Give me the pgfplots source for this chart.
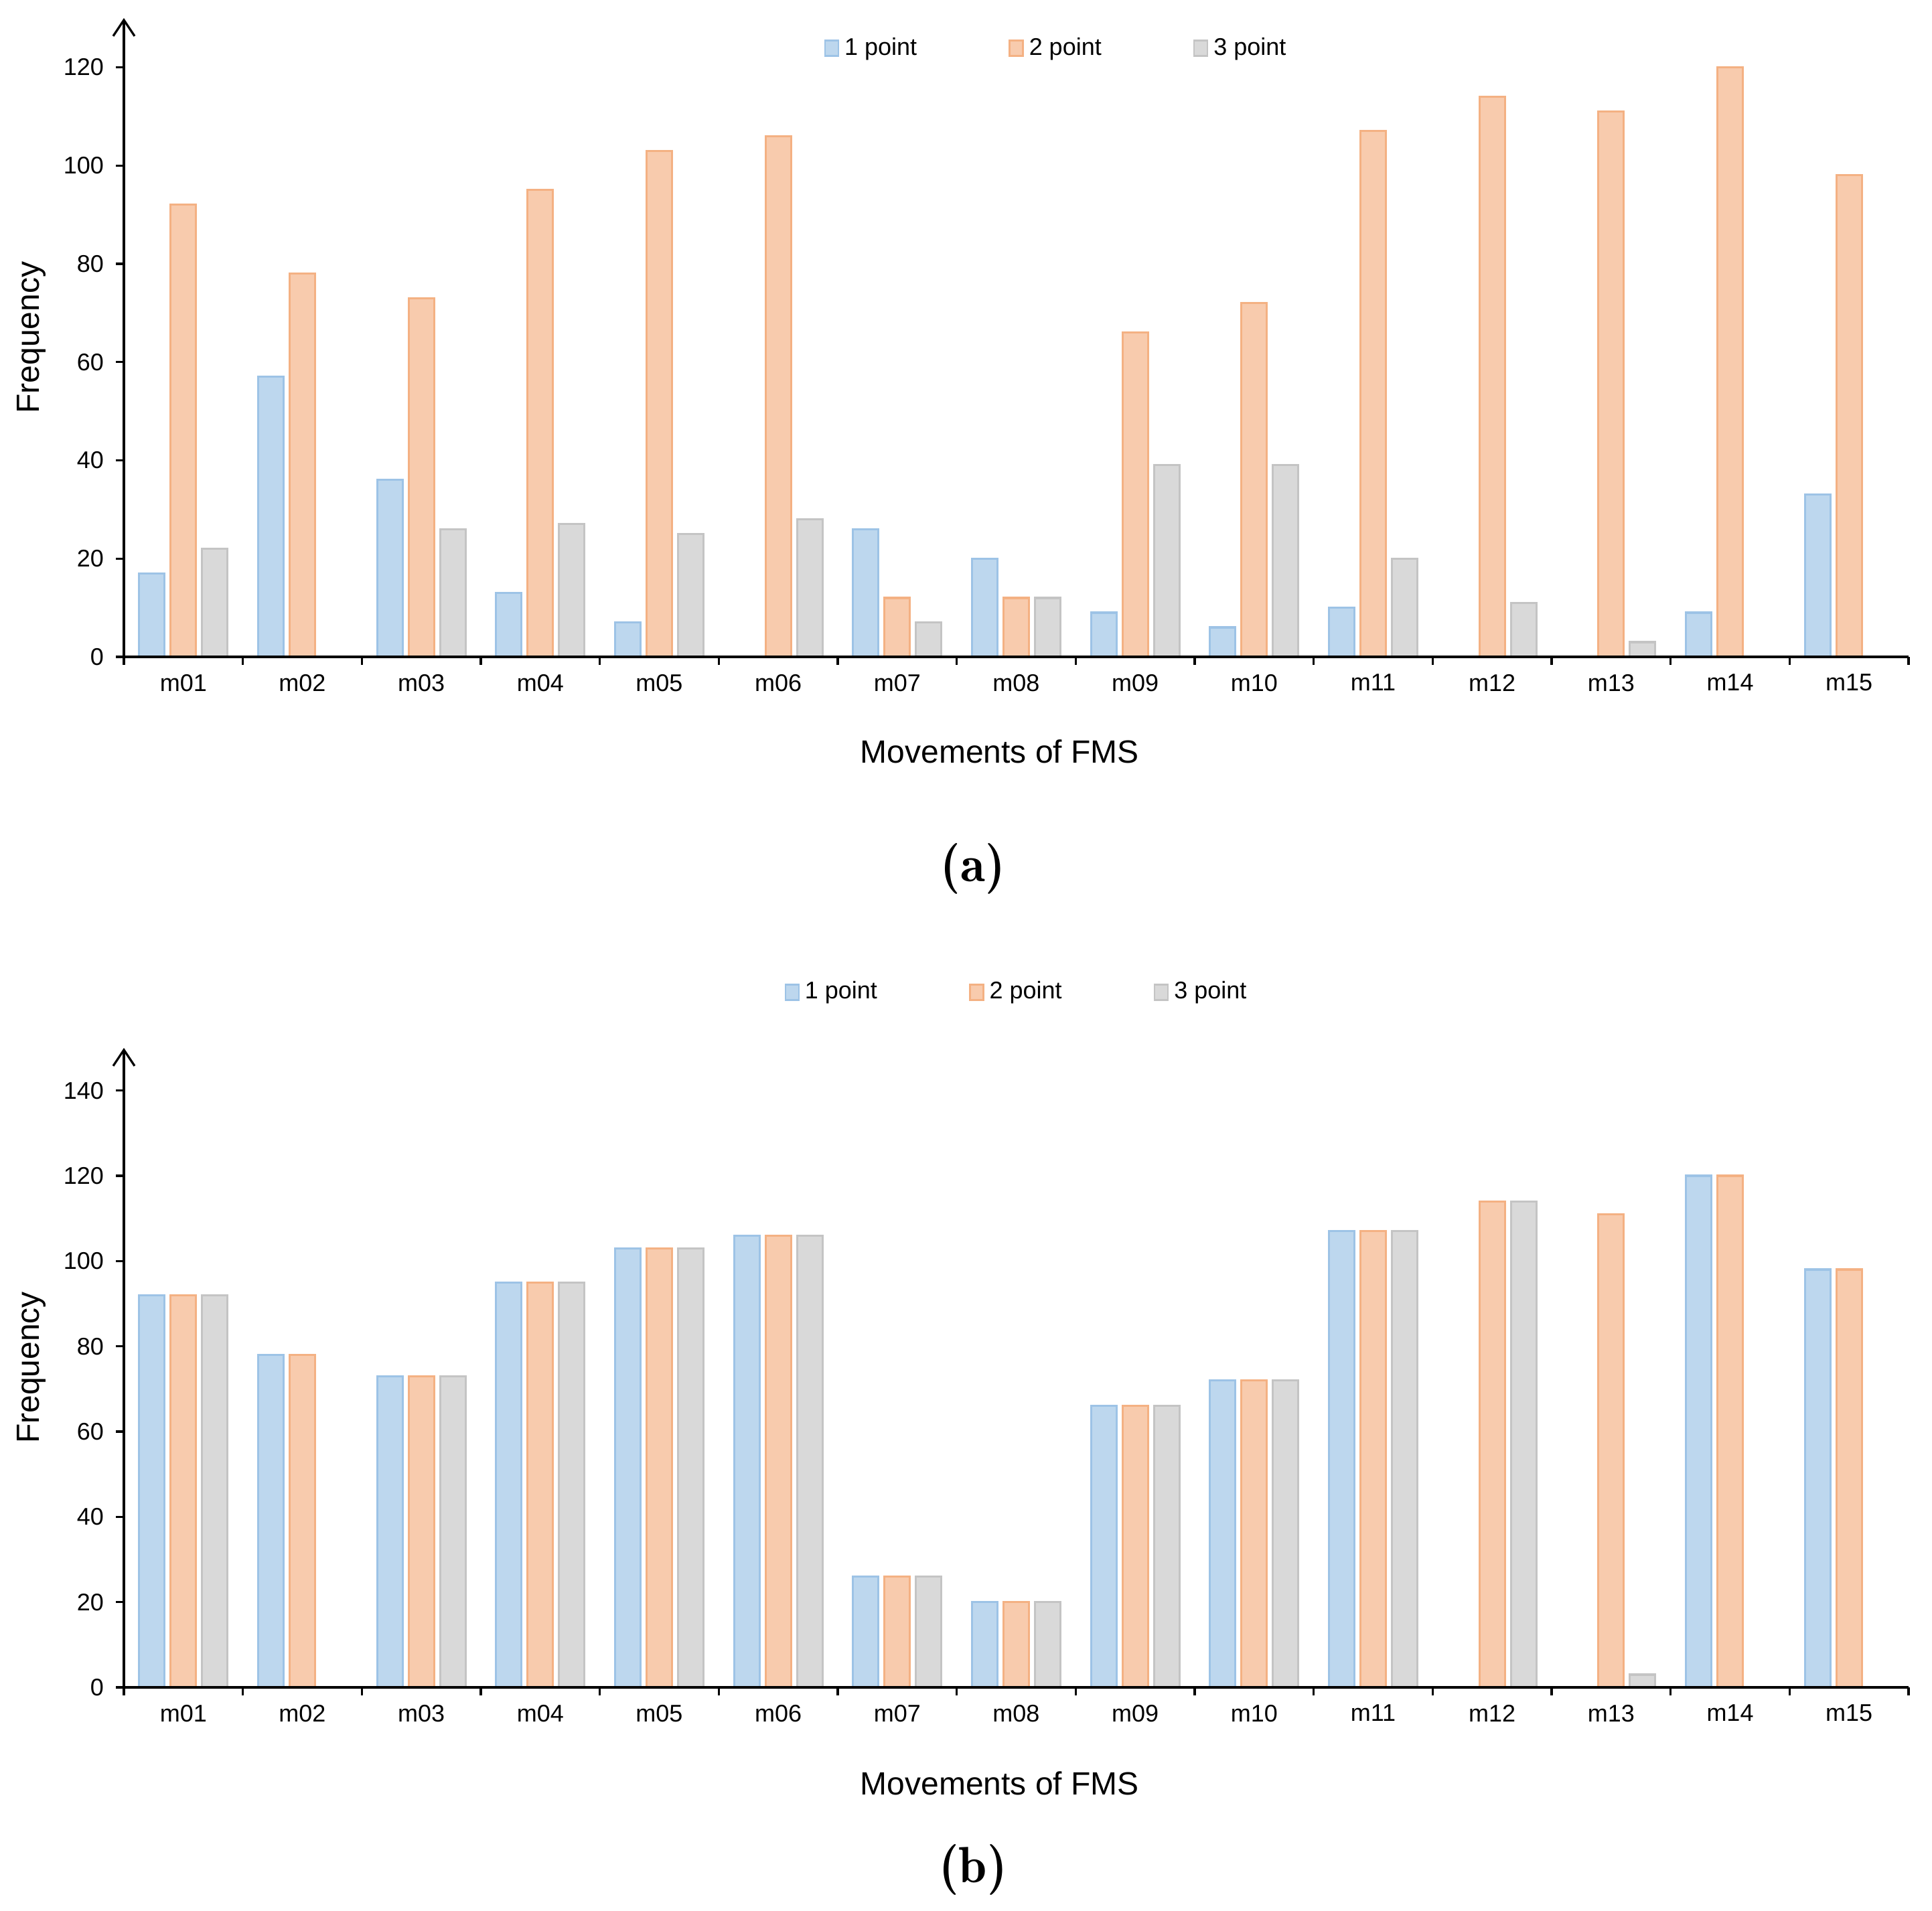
\documentclass[border=0pt]{standalone}
\usepackage{pgfplots}
\pgfplotsset{compat=1.18}
\usepackage{fontspec}
\setmainfont{Liberation Sans}
\usetikzlibrary{arrows.meta}
\definecolor{bfill}{HTML}{BDD7EE}\definecolor{bedge}{HTML}{9DC3E6}
\definecolor{ofill}{HTML}{F8CBAD}\definecolor{oedge}{HTML}{F4B183}
\definecolor{gfill}{HTML}{D9D9D9}\definecolor{gedge}{HTML}{C4C4C4}
\pgfplotsset{
 fmsaxis/.style={
  scale only axis, width=666.25pt, anchor=south west,
  xmin=0.5, xmax=15.5, ymin=0,
  axis x line=bottom, axis y line=left,
  x axis line style={-, line width=1.2pt},
  y axis line style={-{Straight Barb[length=6pt,width=8pt]}, line width=0.8pt},
  tick align=outside,
  xtick={1,...,15},
  xticklabels={m01,m02,m03,m04,m05,m06,m07,m08,m09,m10,m11,m12,m13,m14,m15},
  minor xtick={0.5,1.5,...,15.5},
  every major x tick/.append style={draw=none},
  minor tick length=3pt, major tick length=3pt,
  every minor x tick/.append style={black, line width=0.8pt},
  every major y tick/.append style={black, line width=0.8pt},
  tick label style={font=\fontsize{9}{10}\selectfont},
  yticklabel style={xshift=-1pt},
  /pgf/number format/assume math mode=true,
  label style={font=\fontsize{12}{14}\selectfont},
  xlabel={Movements of FMS}, ylabel={Frequency},
  ylabel style={at={(axis description cs:-0.0518,0.5)}, anchor=center, rotate=0},
  ybar, bar width=0.214,
  axis on top,
  legend columns=3,
  legend style={draw=none, fill=none, anchor=center, font=\fontsize{9}{10}\selectfont,
    /tikz/every even column/.append style={column sep=32.3pt}},
  legend image code/.code={\draw[#1,line width=0.6pt] (0pt,-2.9pt) rectangle (5pt,2.9pt);},
 },
 b1/.style={fill=bfill, draw=bedge, line width=0.8pt, bar shift=-0.2645},
 b2/.style={fill=ofill, draw=oedge, line width=0.8pt, bar shift=0},
 b3/.style={fill=gfill, draw=gedge, line width=0.8pt, bar shift=0.2645},
}
\begin{document}
\begin{tikzpicture}
\useasboundingbox (0,0) rectangle (721.25pt,-713.5pt);
\begin{axis}[fmsaxis, at={(46.25pt,-245.25pt)}, height=238.5pt, ymax=130,
  ytick={0,20,...,120},
  xlabel style={at={(axis description cs:0.4908,-0.1478)}, anchor=center},
  legend style={at={(axis description cs:0.5233,0.9528)}}]
\addplot[b1] coordinates {(1,17) (2,57) (3,36) (4,13) (5,7) (7,26) (8,20) (9,9) (10,6) (11,10) (14,9) (15,33)};
\addplot[b2] coordinates {(1,92) (2,78) (3,73) (4,95) (5,103) (6,106) (7,12) (8,12) (9,66) (10,72) (11,107) (12,114) (13,111) (14,120) (15,98)};
\addplot[b3] coordinates {(1,22) (3,26) (4,27) (5,25) (6,28) (7,7) (8,12) (9,39) (10,39) (11,20) (12,11) (13,3)};
\legend{1 point,2 point,3 point}
\end{axis}
\begin{axis}[fmsaxis, at={(46.25pt,-630pt)}, height=238.75pt, ymax=150,
  ytick={0,20,...,140},
  xlabel style={at={(axis description cs:0.4908,-0.1497)}, anchor=center},
  legend style={at={(axis description cs:0.5011,1.087)}}]
\addplot[b1] coordinates {(1,92) (2,78) (3,73) (4,95) (5,103) (6,106) (7,26) (8,20) (9,66) (10,72) (11,107) (14,120) (15,98)};
\addplot[b2] coordinates {(1,92) (2,78) (3,73) (4,95) (5,103) (6,106) (7,26) (8,20) (9,66) (10,72) (11,107) (12,114) (13,111) (14,120) (15,98)};
\addplot[b3] coordinates {(1,92) (3,73) (4,95) (5,103) (6,106) (7,26) (8,20) (9,66) (10,72) (11,107) (12,114) (13,3)};
\legend{1 point,2 point,3 point}
\end{axis}
\node[font=\fontfamily{lmr}\bfseries\fontsize{19}{22}\selectfont] at (363.25pt,-324.25pt) {(a)};
\node[font=\fontfamily{lmr}\bfseries\fontsize{19}{22}\selectfont] at (363.25pt,-698pt) {(b)};
\end{tikzpicture}
\end{document}
